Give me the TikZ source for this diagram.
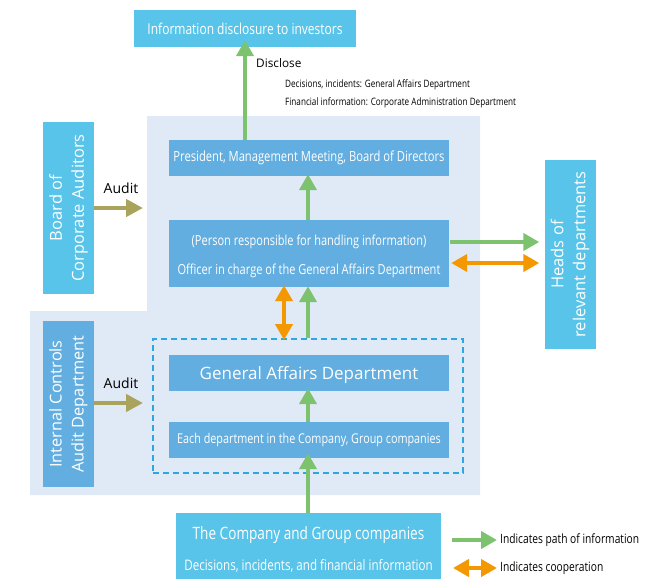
\documentclass[tikz,border=0pt]{standalone}
\usepackage{fontspec}
\setmainfont{Open Sans}
\newfontfamily\condf[FakeStretch=0.8]{Open Sans}
\usetikzlibrary{arrows.meta}
\definecolor{cyanbox}{HTML}{58C4E9}
\definecolor{bluebox}{HTML}{62AEE0}
\definecolor{bgblue}{HTML}{E0E9F6}
\definecolor{dashblue}{HTML}{2EA6E1}
\definecolor{infogreen}{HTML}{7DC36F}
\definecolor{coop}{HTML}{F39800}
\definecolor{olive}{HTML}{A9A35B}
\tikzset{
  box/.style={draw=none, inner sep=0pt, text=white, align=center},
  cbox/.style={box, fill=cyanbox},
  bbox/.style={box, fill=bluebox},
  garrow/.style={draw=infogreen, line width=4.5pt, -{Triangle[width=17pt,length=16pt]}},
  oarrow/.style={draw=coop, line width=4.5pt, {Triangle[width=17pt,length=16pt]}-{Triangle[width=17pt,length=16pt]}},
  aarrow/.style={draw=olive, line width=4.5pt, -{Triangle[width=17pt,length=17pt]}},
  lbl/.style={inner sep=0pt, text=black},
}
\begin{document}
\begin{tikzpicture}[x=1pt,y=-1pt]
\useasboundingbox (0,0) rectangle (659,579);
% background
\fill[bgblue] (147,116) -- (480,116) -- (480,495) -- (30,495) -- (30,311) -- (147,311) -- cycle;
% group dashed
\node[draw=dashblue, line width=2pt, dash pattern=on 6pt off 4pt, minimum width=310pt, minimum height=134pt, inner sep=0pt] (grp) at (308,406) {};
% boxes
\node[cbox, minimum width=222pt, minimum height=37pt, font=\fontsize{15}{18}\selectfont\condf] (top) at (245,28.5) {Information disclosure to investors};
\node[cbox, rotate=90, minimum width=172pt, minimum height=51pt, font=\fontsize{16.5}{22}\selectfont] (bca) at (68.5,208) {Board of\\Corporate Auditors};
\node[bbox, minimum width=280pt, minimum height=36pt, font=\fontsize{14}{17}\selectfont\condf] (pres) at (309,158) {President, Management Meeting, Board of Directors};
\node[bbox, minimum width=280pt, minimum height=67pt, font=\fontsize{13.8}{29}\selectfont\condf] (off) at (309,253.5) {\rule{0pt}{16.5pt}(Person responsible for handling information)\\Officer in charge of the General Affairs Department};
\node[cbox, rotate=90, minimum width=189pt, minimum height=51pt, font=\fontsize{16.5}{22}\selectfont] (heads) at (570,254.5) {Heads of\\relevant departments};
\node[bbox, rotate=90, minimum width=166pt, minimum height=51pt, font=\fontsize{16.3}{22}\selectfont] (ica) at (68.5,404) {Internal Controls\\Audit Department};
\node[bbox, minimum width=280pt, minimum height=36pt, font=\fontsize{17}{20}\selectfont] (gad) at (309,373) {\rule{0pt}{16.5pt}General Affairs Department};
\node[bbox, minimum width=280pt, minimum height=36pt, font=\fontsize{13.5}{16}\selectfont\condf] (each) at (309,440) {Each department in the Company, Group companies};
\node[cbox, minimum width=265pt, minimum height=66pt, font=\fontsize{14.5}{31}\selectfont\condf] (comp) at (308.5,546) {\rule{0pt}{20pt}{\fontsize{17}{31}\selectfont The Company and Group companies}\\Decisions, incidents, and financial information};
% labels
\node[lbl, anchor=west, font=\fontsize{11.8}{14}\selectfont] (discl) at (256,63) {Disclose};
\node[lbl, anchor=north west, align=left, font=\fontsize{10.2}{18}\selectfont\condf] (dtxt) at (285,79) {Decisions, incidents: General Affairs Department\\Financial information: Corporate Administration Department};
\node[lbl, font=\fontsize{14}{16}\selectfont] (aud1) at (121,188) {Audit};
\node[lbl, font=\fontsize{14}{16}\selectfont] (aud2) at (121,383) {Audit};
\coordinate (a1end) at (143,208);
\coordinate (a2end) at (143,403);
% arrows
\draw[garrow] (pres.north -| top.south) -- ([yshift=7pt]top.south);
\draw[garrow] (off.north -| 308,0) -- ([yshift=2pt]pres.south -| 308,0);
\draw[garrow] (grp.north -| 308,0) -- ([yshift=1pt]off.south -| 308,0);
\draw[oarrow] ([yshift=2pt]off.south -| 284,0) -- ([yshift=-2pt]grp.north -| 284,0);
\draw[garrow] (each.north -| 308,0) -- ([yshift=3pt]gad.south -| 308,0);
\draw[garrow] (comp.north -| 308,0) -- ([yshift=5pt]each.south -| 308,0);
\draw[garrow] ([xshift=1pt]off.east |- 0,242) -- ([xshift=-5pt]heads.north |- 0,242);
\draw[oarrow] ([xshift=2pt]off.east |- 0,263) -- ([xshift=-5pt]heads.north |- 0,263);
\draw[aarrow] (bca.south |- a1end) -- (a1end);
\draw[aarrow] (ica.south |- a2end) -- (a2end);
% legend
\coordinate (lg1) at (452,540);
\coordinate (lg2) at (453,568);
\node[lbl, anchor=west, font=\fontsize{12.8}{15}\selectfont\condf] (lt1) at (500,540) {Indicates path of information};
\node[lbl, anchor=west, font=\fontsize{12.8}{15}\selectfont\condf] (lt2) at (500,568) {Indicates cooperation};
\draw[garrow] (lg1) -- ([xshift=-3pt]lt1.west);
\draw[oarrow] (lg2) -- ([xshift=-3pt]lt2.west);
\end{tikzpicture}
\end{document}
